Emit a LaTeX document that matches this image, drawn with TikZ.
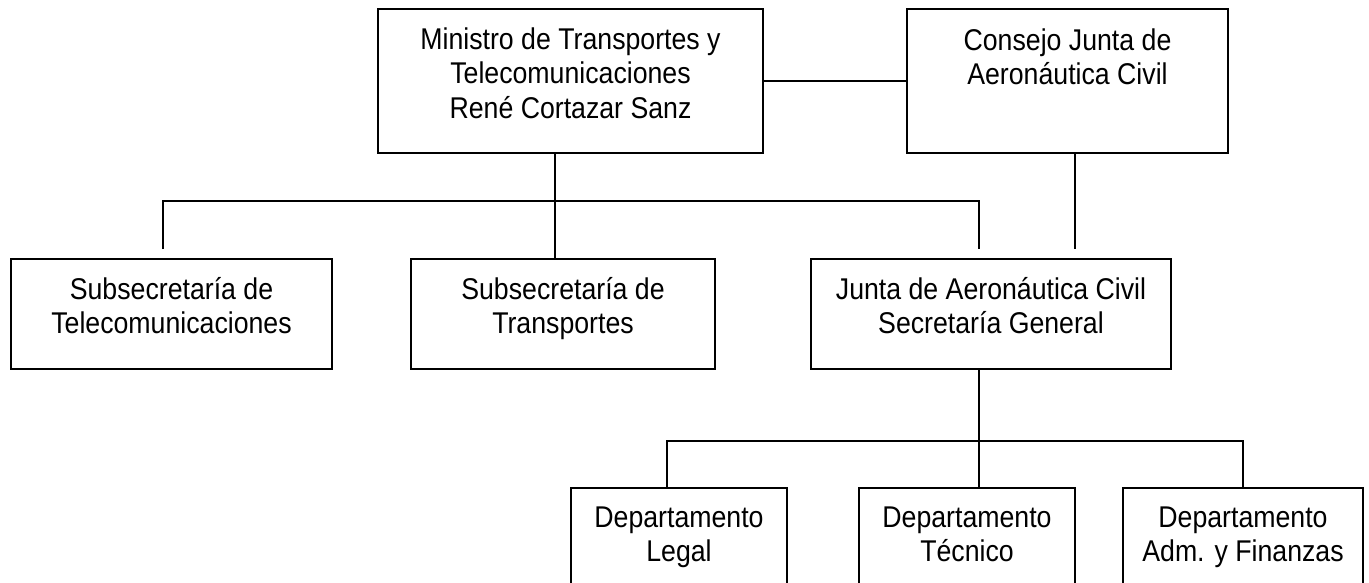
\documentclass[tikz,border=0pt]{standalone}
\usepackage{fontspec}
\setmainfont{Liberation Sans}[FakeStretch=0.89]
\begin{document}
\begin{tikzpicture}[x=1pt,y=-1pt,
  box/.style={draw, line width=2.5pt, inner sep=0pt},
  lbl/.style={align=center, inner sep=0pt, font=\fontsize{30}{34.5}\selectfont},
  conn/.style={line width=2.5pt}]
\useasboundingbox (0,0) rectangle (1369,583);
\clip (0,0) rectangle (1369,583);
% boxes
\node[box, minimum width=385pt, minimum height=144pt] (min) at (570.5,81) {};
\node[box, minimum width=321pt, minimum height=144pt] (con) at (1067.5,81) {};
\node[box, minimum width=321pt, minimum height=110pt] (tel) at (171.5,314) {};
\node[box, minimum width=304pt, minimum height=110pt] (tra) at (563,314) {};
\node[box, minimum width=360pt, minimum height=110pt] (jun) at (991,314) {};
\node[box, minimum width=216pt, minimum height=120pt] (leg) at (679,548) {};
\node[box, minimum width=216pt, minimum height=120pt] (tec) at (967,548) {};
\node[box, minimum width=240pt, minimum height=120pt] (fin) at (1243,548) {};
% labels
\node[lbl, anchor=north] (minT) at ([yshift=-17pt]min.north) {\strut Ministro de Transportes y\\Telecomunicaciones\\René Cortazar Sanz};
\node[lbl, anchor=north] (conT) at ([yshift=-18pt]con.north) {\strut Consejo Junta de\\Aeronáutica Civil};
\node[lbl, anchor=north] (telT) at ([yshift=-17pt]tel.north) {\strut Subsecretaría de\\Telecomunicaciones};
\node[lbl, anchor=north] (traT) at ([yshift=-17pt]tra.north) {\strut Subsecretaría de\\Transportes};
\node[lbl, anchor=north] (junT) at ([yshift=-17pt]jun.north) {\strut Junta de Aeronáutica Civil\\Secretaría General};
\node[lbl, anchor=north] (legT) at ([yshift=-16pt]leg.north) {\strut Departamento\\Legal};
\node[lbl, anchor=north] (tecT) at ([yshift=-16pt]tec.north) {\strut Departamento\\Técnico};
\node[lbl, anchor=north] (finT) at ([yshift=-16pt]fin.north) {\strut Departamento\\Adm. y Finanzas};
% connector points
\coordinate (bus) at (555,201);
\coordinate (t1) at (163,249);
\coordinate (t2) at (979,249);
\coordinate (c1) at (1075,249);
\coordinate (bus2) at (979,441);
\coordinate (l1) at (667,441);
\coordinate (f1) at (1243,441);
% connectors
\draw[conn] (min.east) -- (con.west);
\draw[conn] (min.south -| bus) -- (tra.north -| bus);
\draw[conn] (t1) -- (t1 |- bus) -- (t2 |- bus) -- (t2);
\draw[conn] (con.south -| c1) -- (c1);
\draw[conn] (jun.south -| bus2) -- (tec.north -| bus2);
\draw[conn] (leg.north -| l1) -- (l1) -- (f1) -- (fin.north -| f1);
\end{tikzpicture}
\end{document}
